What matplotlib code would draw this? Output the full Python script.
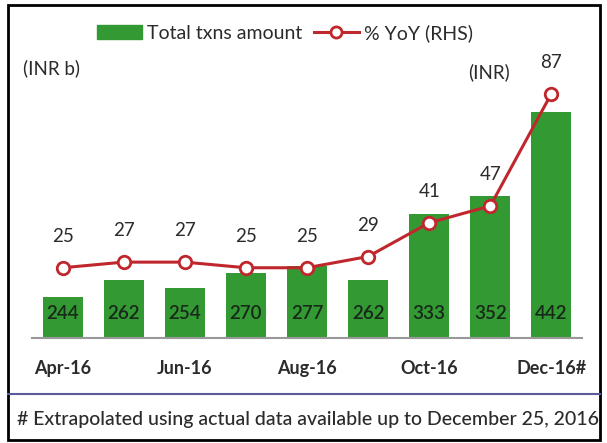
import matplotlib.pyplot as plt
from matplotlib.patches import Rectangle
from matplotlib.lines import Line2D

months = ["Apr-16", "May-16", "Jun-16", "Jul-16", "Aug-16", "Sep-16", "Oct-16", "Nov-16", "Dec-16#"]
txn_amount = [244, 262, 254, 270, 277, 262, 333, 352, 442]
yoy = [25, 27, 27, 25, 25, 29, 41, 47, 87]

green = "#339933"
red = "#c0272d"
txt = "#2b2b2b"

plt.rcParams['font.family'] = ['Lato', 'DejaVu Sans']

fig = plt.figure(figsize=(6.07, 4.43), dpi=100)
W, H = 607, 443

# axes placed in pixel terms
left, right, bottom, top = 32, 582, 338, 50
ax = fig.add_axes([left / W, 1 - bottom / H, (right - left) / W, (bottom - top) / H])
ax2 = ax.twinx()

x = list(range(len(months)))
ax.bar(x, txn_amount, width=0.655, color=green, zorder=2)
ax.set_xlim(-0.5, len(months) - 0.5)
ax.set_ylim(200, 200 + (bottom - top) / 0.934)

for i, v in enumerate(txn_amount):
    ax.text(i, 226.5, str(v), ha='center', va='center', fontsize=13.5,
            fontweight='semibold', color="#18281a")

ax2.plot(x, yoy, color=red, lw=2.2, marker='o', markersize=9,
         markerfacecolor='white', markeredgecolor=red, markeredgewidth=2, zorder=3)
ax2.set_ylim(0, (bottom - top) / 2.81)
for i, v in enumerate(yoy):
    ax2.annotate(str(v), (i, v), xytext=(0, 22.5), textcoords='offset points',
                 ha='center', va='center', fontsize=13.5, color=txt)

for a in (ax, ax2):
    for s in ["top", "right", "left"]:
        a.spines[s].set_visible(False)
    a.set_yticks([])
ax2.spines["bottom"].set_visible(False)
ax.spines["bottom"].set_color("#999999")
ax.spines["bottom"].set_linewidth(1.5)

ax.set_xticks(x[::2])
ax.set_xticklabels(months[::2], fontsize=13, color=txt, fontweight='bold')
ax.tick_params(axis='x', length=0, pad=16)

# legend
handles = [Rectangle((0, 0), 1, 1, color=green),
           Line2D([0], [0], color=red, lw=2.2, marker='o', markersize=8,
                  markerfacecolor='white', markeredgecolor=red, markeredgewidth=2)]
fig.legend(handles, ["Total txns amount", "% YoY (RHS)"], loc='center',
           bbox_to_anchor=(285 / W, 1 - 33 / H), ncol=2, frameon=False,
           fontsize=14, handlelength=2.3, columnspacing=0.6, handletextpad=0.25,
           labelcolor=txt)

fig.text(23 / W, 1 - 68 / H, "(INR b)", fontsize=13.5, color=txt, va='center')
fig.text(468 / W, 1 - 72 / H, "(INR)", fontsize=13.5, color=txt, va='center')

# separator and footnote
fig.add_artist(Line2D([8 / W, 600 / W], [1 - 394 / H, 1 - 394 / H], color="#5b5b9b", lw=1.5))
fig.text(308 / W, 1 - 419 / H, "# Extrapolated using actual data available up to December 25, 2016",
         fontsize=14, fontweight='medium', color=txt, ha='center', va='center')

# outer border
fig.add_artist(Rectangle((8 / W, 3 / H), 592 / W, 1 - 8 / H, fill=False,
                         edgecolor='black', lw=2, transform=fig.transFigure))

fig.savefig("out.png", dpi=100)
